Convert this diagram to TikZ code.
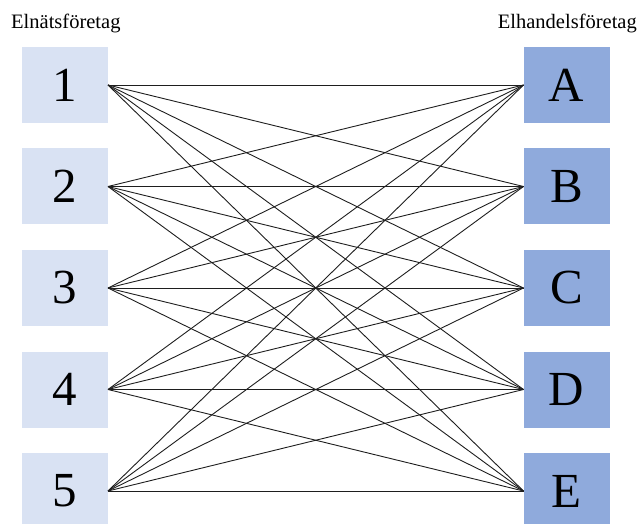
\documentclass[tikz,border=0pt]{standalone}
\usepackage{fontspec}
\setmainfont{Liberation Serif}
\definecolor{leftfill}{HTML}{D9E2F3}
\definecolor{rightfill}{HTML}{8FAADC}
\definecolor{linecol}{HTML}{1E1E1E}
\begin{document}
\begin{tikzpicture}[x=1pt,y=-1pt,
  box/.style={minimum width=86pt,minimum height=76pt,inner sep=0pt,outer sep=0pt,
    font=\fontsize{49}{49}\selectfont},
  lbox/.style={box,fill=leftfill},
  rbox/.style={box,fill=rightfill},
  title/.style={inner sep=0pt,font=\fontsize{20.5}{20.5}\selectfont},
  link/.style={draw=linecol,line width=0.9pt}]
\useasboundingbox (0,0) rectangle (638,524);
\node[title,anchor=base west] (tl) at (11,29) {Elnätsföretag};
\node[title,anchor=base east] (tr) at (637,29) {Elhandelsföretag};
\foreach \n/\t [count=\i from 0] in {l1/1,l2/2,l3/3,l4/4,l5/5}{
  \node[lbox] (\n) at (65,{85+101.5*\i}) {\t};
}
\foreach \n/\t [count=\i from 0] in {rA/A,rB/B,rC/C,rD/D,rE/E}{
  \node[rbox] (\n) at (566.5,{85+101.5*\i}) {\t};
}
\foreach \a in {l1,l2,l3,l4,l5}{
  \foreach \b in {rA,rB,rC,rD,rE}{
    \draw[link] (\a.east) -- (\b.west);
  }
}
\end{tikzpicture}
\end{document}
